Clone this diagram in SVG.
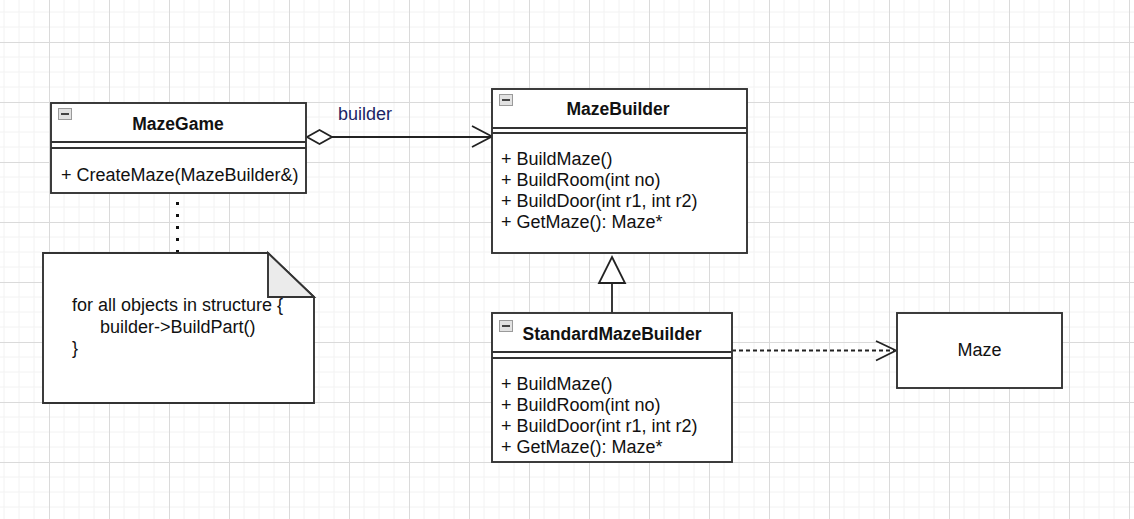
<svg xmlns="http://www.w3.org/2000/svg" width="1134" height="519" viewBox="0 0 1134 519">
<style>
.box{fill:#fff;stroke:#333;stroke-width:1.9}
.sep{stroke:#333;stroke-width:1.9;fill:none}
.t{font-family:"Liberation Sans",Arial,sans-serif;font-size:18px;fill:#111}
.b{font-weight:bold;text-anchor:middle;font-size:17.5px}
.c{stroke:#222;stroke-width:1.8;fill:none}
.ico{fill:#e2e2e2;stroke:#9a9a9a;stroke-width:1}
.icm{stroke:#444;stroke-width:2}
</style>
<defs>
<pattern id="grid" x="49" y="42" width="60" height="60" patternUnits="userSpaceOnUse">
<path d="M15 0V60M30 0V60M45 0V60M0 15H60M0 30H60M0 45H60" stroke="#f2f2f2" stroke-width="1" fill="none"/>
<path d="M0.5 0V60M0 0.5H60" stroke="#dadada" stroke-width="1" fill="none"/>
</pattern>
</defs>
<rect width="1134" height="519" fill="#fff"/>
<rect width="1134" height="519" fill="url(#grid)"/>

<g id="connectors">
<line x1="177.5" y1="202" x2="177.5" y2="253" stroke="#111" stroke-width="3" stroke-dasharray="3 9"/>
<path class="c" d="M332 137H492"/>
<path d="M307 137L319.5 130L332 137L319.5 144Z" fill="#fff" stroke="#222" stroke-width="1.8"/>
<path class="c" d="M472 126L492 136.5L472 147"/>
<path class="c" d="M612 313V283"/>
<path d="M612 257L625 283H599Z" fill="#fff" stroke="#222" stroke-width="1.8"/>
<path class="c" d="M732 350.5H894" stroke-dasharray="4 3"/>
<path class="c" d="M876 341L896 350.5L876 360.5"/>
<text class="t" x="338" y="120" style="fill:#1b2466">builder</text>
</g>

<g id="MazeGame">
<rect class="box" x="51" y="103" width="255" height="90"/>
<path class="sep" d="M51 142H306M51 148H306"/>
<rect class="ico" x="58.5" y="108.5" width="13" height="11"/>
<path class="icm" d="M61 114H69"/>
<text class="t b" x="178" y="130">MazeGame</text>
<text class="t" x="61" y="181">+ CreateMaze(MazeBuilder&amp;)</text>
</g>

<g id="MazeBuilder">
<rect class="box" x="492" y="89" width="255" height="164"/>
<path class="sep" d="M492 128H747M492 133H747"/>
<rect class="ico" x="499.5" y="94.5" width="13" height="11"/>
<path class="icm" d="M502 100H510"/>
<text class="t b" x="618" y="115">MazeBuilder</text>
<text class="t" x="501" y="165">+ BuildMaze()</text>
<text class="t" x="501" y="186">+ BuildRoom(int no)</text>
<text class="t" x="501" y="207">+ BuildDoor(int r1, int r2)</text>
<text class="t" x="501" y="228">+ GetMaze(): Maze*</text>
</g>

<g id="StandardMazeBuilder">
<rect class="box" x="492" y="313" width="240" height="149"/>
<path class="sep" d="M492 352H732M492 358H732"/>
<rect class="ico" x="499.5" y="320.5" width="13" height="11"/>
<path class="icm" d="M502 326H510"/>
<text class="t b" x="612" y="340">StandardMazeBuilder</text>
<text class="t" x="501" y="390">+ BuildMaze()</text>
<text class="t" x="501" y="411">+ BuildRoom(int no)</text>
<text class="t" x="501" y="432">+ BuildDoor(int r1, int r2)</text>
<text class="t" x="501" y="453">+ GetMaze(): Maze*</text>
</g>

<g id="Note">
<path class="box" d="M43 253H268L314 297V403H43Z"/>
<path d="M268 253V297H314Z" fill="#ebebeb" stroke="#333" stroke-width="1.9"/>
<text class="t" x="72" y="311">for all objects in structure {</text>
<text class="t" x="100" y="333">builder-&gt;BuildPart()</text>
<text class="t" x="72" y="354">}</text>
</g>

<g id="Maze">
<rect class="box" x="897" y="313" width="165" height="75"/>
<text class="t" x="979.5" y="356" text-anchor="middle">Maze</text>
</g>
</svg>
